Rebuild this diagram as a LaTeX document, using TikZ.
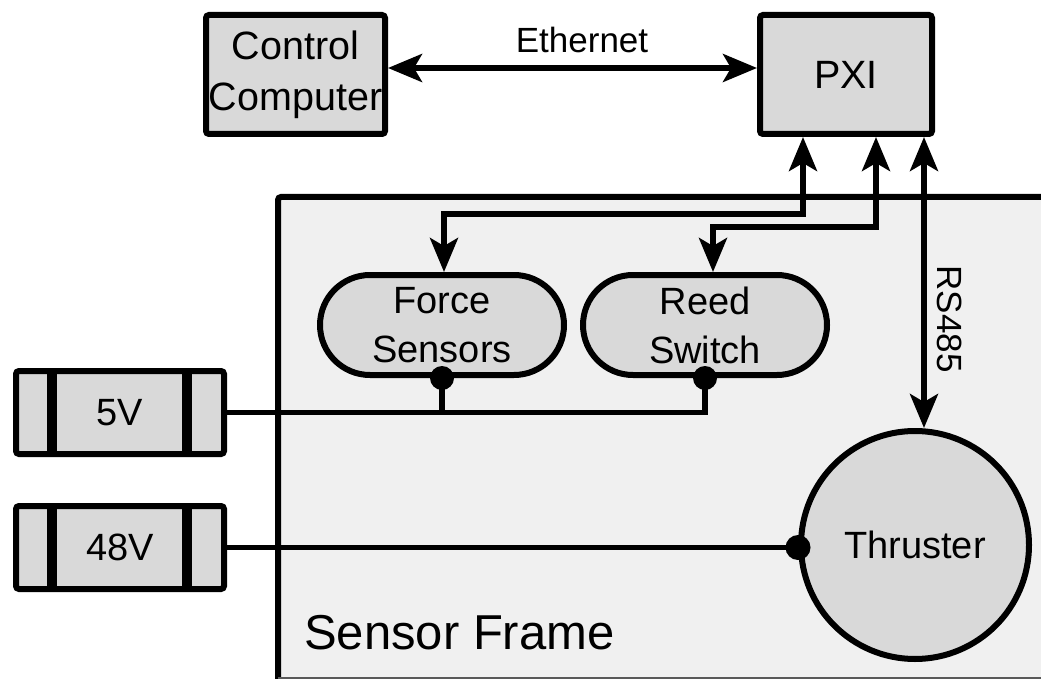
\documentclass[tikz,border=0pt]{standalone}
\usepackage{fontspec}
\setmainfont{Liberation Sans}
\usetikzlibrary{arrows.meta}
\definecolor{boxgray}{HTML}{D9D9D9}
\definecolor{framegray}{HTML}{F0F0F0}
\tikzset{
  blk/.style={draw, line width=6pt, fill=boxgray, rounded corners=3pt,
    inner sep=0pt, align=center},
  bigtxt/.style={font=\fontsize{39.5}{51}\selectfont},
  midtxt/.style={font=\fontsize{38}{49}\selectfont},
  lbltxt/.style={font=\fontsize{35}{42}\selectfont, inner sep=0pt},
  pill/.style={blk, rounded corners=50pt, minimum width=244pt, minimum height=100pt, midtxt},
  supply/.style={blk, minimum width=208pt, minimum height=83pt, midtxt},
  wire/.style={line width=5.5pt},
  bighead/.tip={Stealth[length=34pt,width=28pt,inset=8pt]},
  link/.style={line width=5.5pt, bighead-bighead},
  bar/.style={line width=10pt},
  junction/.style={fill=black}
}
\begin{document}
\begin{tikzpicture}[x=1pt, y=-1pt]
\useasboundingbox (0,0) rectangle (1041,679);
\clip (0,0) rectangle (1041,679);

% sensor frame enclosure
\fill[framegray] (278,197) rectangle (1060,690);
\draw[line width=6pt, rounded corners=3pt] (278,700) -- (278,197) -- (1060,197);
\draw[line width=2pt, black!65] (278,678) -- (1060,678);
\node[anchor=west, inner sep=0pt, font=\fontsize{49}{55}\selectfont] (sflabel) at (304,633) {Sensor Frame};

% blocks
\node[blk, bigtxt, minimum width=179pt, minimum height=119pt] (ctrl) at (295.5,74.5) {Control\\Computer};
\node[blk, bigtxt, minimum width=172pt, minimum height=119pt] (pxi) at (846,74.5) {PXI};
\node[pill] (force) at (442,325) {Force\\Sensors};
\node[pill] (reed) at (705,325) {Reed\\Switch};
\node[blk, circle, minimum size=228pt, midtxt] (thr) at (915,545) {Thruster};
\node[supply] (v5) at (120,412.5) {5V};
\node[supply] (v48) at (120,547.5) {48V};
\foreach \b in {v5, v48} {
  \draw[bar] ([xshift=-68pt]\b.north) -- ([xshift=-68pt]\b.south);
  \draw[bar] ([xshift=67pt]\b.north) -- ([xshift=67pt]\b.south);
}

% communication links
\draw[link] ([yshift=6.5pt]ctrl.east) -- ([yshift=6.5pt]pxi.west);
\node[lbltxt] (eth) at (582,40) {Ethernet};
\draw[link] ([xshift=-43pt]pxi.south) -- ++(0,77) -| ([xshift=2pt]force.north);
\draw[link] ([xshift=30pt]pxi.south) -- ++(0,90) -| ([xshift=8pt]reed.north);
\draw[link] ([xshift=78pt]pxi.south) -- ([xshift=78pt]pxi.south |- thr.north);
\node[lbltxt, rotate=-90] (rs) at (950,319) {RS485};

% power wiring
\coordinate (bus) at (v5.east);
\draw[wire] (v5.east) -| (reed.south);
\draw[wire] (force.south) -- (force.south |- bus);
\fill[junction] (force.south) circle[radius=12pt];
\fill[junction] (reed.south) circle[radius=12pt];
\draw[wire] (v48.east) -- (v48.east -| thr.west);
\fill[junction] (v48.east -| thr.west) circle[radius=12.5pt];
\end{tikzpicture}
\end{document}
